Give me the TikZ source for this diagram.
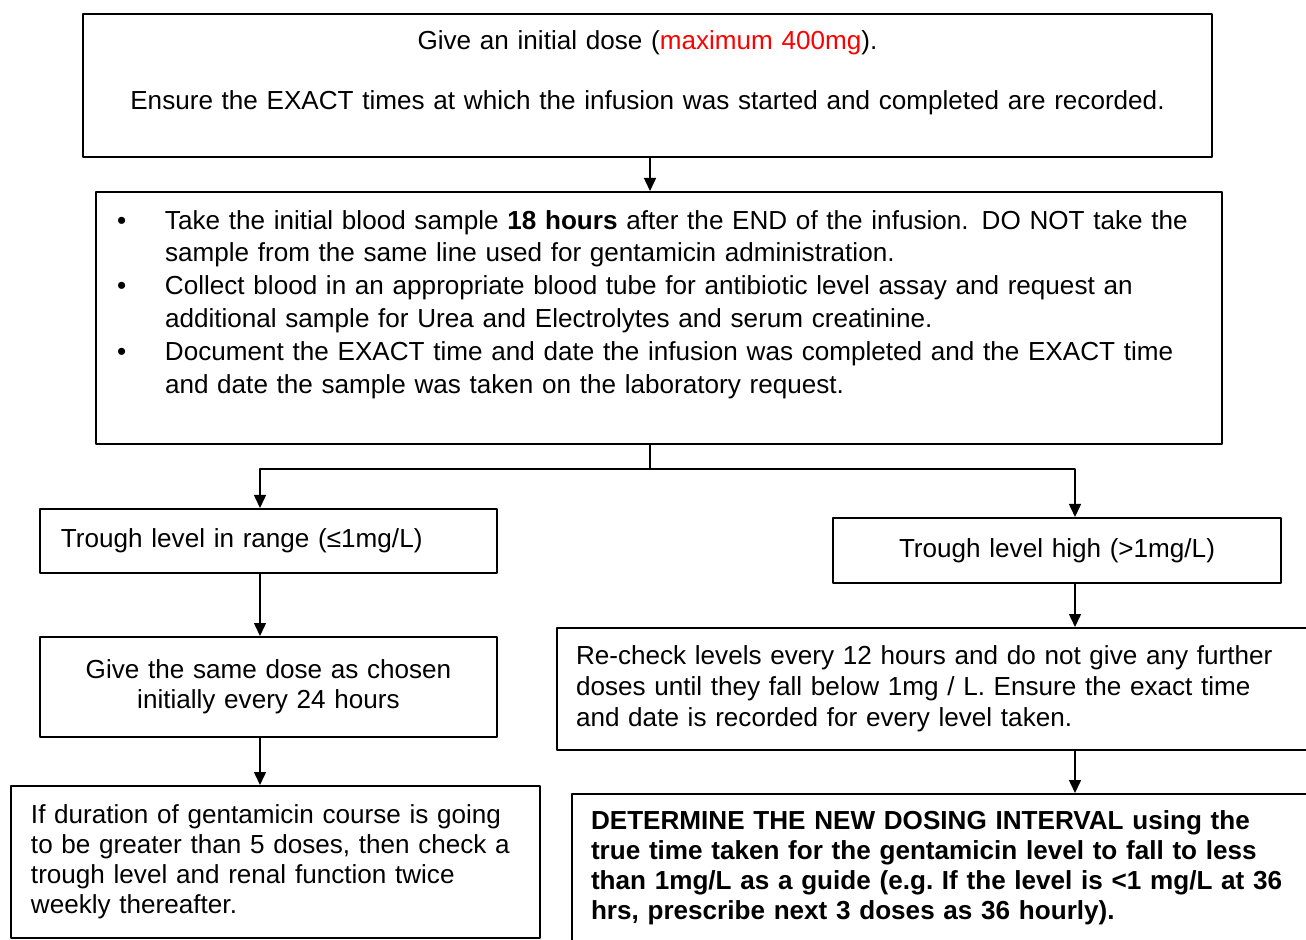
\documentclass[tikz,border=0pt]{standalone}
\usepackage{fontspec}
\setmainfont{Liberation Sans}
\usepackage{xcolor}
\usetikzlibrary{arrows.meta,calc}

\newcommand{\boxfont}{\fontsize{13.05}{15}\selectfont}
\newcommand{\bulletline}{\makebox[24pt][l]{\textbullet}}
\newcommand{\contline}{\hspace*{24pt}}

\begin{document}
\begin{tikzpicture}[x=0.5pt,y=-0.5pt,>={Triangle[length=6.5pt,width=6pt]},line join=round,
  flowbox/.style={draw,line width=1pt,inner ysep=0pt,font=\boxfont},
  link/.style={line width=0.75pt}]
  \useasboundingbox (0,0) rectangle (1306,940);
  \clip (0,0) rectangle (1306,940);
  \coordinate (split) at (650,469);
  \coordinate (lcol) at (260,0);
  \coordinate (rcol) at (1075,0);
  % boxes
  \node[flowbox,minimum width=564.5pt,minimum height=71.5pt,text width=540pt,inner xsep=0pt,align=center] (dose) at (647.5,85.5)
    {Give an initial dose ({\color{red}maximum 400mg}).\\[15pt]Ensure the EXACT times at which the infusion was started and completed are recorded.\\ \mbox{}};
  \node[flowbox,minimum width=563pt,minimum height=126pt,text width=542pt,inner xsep=10.5pt,align=left,font=\fontsize{13.05}{16.4}\selectfont] (sample) at (659,318)
    {\bulletline Take the initial blood sample \textbf{18 hours} after the END of the infusion. DO NOT take the\\
     \contline sample from the same line used for gentamicin administration.\\
     \bulletline Collect blood in an appropriate blood tube for antibiotic level assay and request an\\
     \contline additional sample for Urea and Electrolytes and serum creatinine.\\
     \bulletline Document the EXACT time and date the infusion was completed and the EXACT time\\
     \contline and date the sample was taken on the laboratory request.\\ \mbox{}};
  \node[flowbox,minimum width=228.5pt,minimum height=32pt,text width=207.5pt,inner xsep=10.5pt,align=left] (inrange) at (268.5,541)
    {Trough level in range (≤1mg/L)};
  \node[flowbox,minimum width=224pt,minimum height=32.5pt,text width=210pt,inner xsep=7pt,align=center] (high) at (1057,550.5)
    {Trough level high (>1mg/L)};
  \node[flowbox,minimum width=228.5pt,minimum height=50pt,text width=210pt,align=center] (samedose) at (268.5,687)
    {Give the same dose as chosen\\initially every 24 hours};
  \node[flowbox,minimum width=264.5pt,minimum height=76pt,text width=244.5pt,inner xsep=10pt,align=left] (course) at (275.5,862)
    {If duration of gentamicin course is going\\to be greater than 5 doses, then check a\\trough level and renal function twice\\weekly thereafter.};
  \node[flowbox,minimum width=377.5pt,minimum height=61pt,text width=358.5pt,inner xsep=9.5pt,align=left,font=\fontsize{13.05}{15.5}\selectfont] (recheck) at (934.5,689)
    {Re-check levels every 12 hours and do not give any further\\doses until they fall below 1mg / L. Ensure the exact time\\and date is recorded for every level taken.};
  \node[flowbox,minimum width=379pt,minimum height=86pt,text width=360pt,inner xsep=9.5pt,align=left,font=\boxfont\bfseries] (newint) at (951,880)
    {DETERMINE THE NEW DOSING INTERVAL using the\\true time taken for the gentamicin level to fall to less\\than 1mg/L as a guide (e.g.\ If the level is <1 mg/L at 36\\hrs, prescribe next 3 doses as 36 hourly).\\ \mbox{}};
  % connectors
  \draw[link,->] (dose.south -| split) -- (sample.north -| split);
  \draw[link] (sample.south -| split) -- (split);
  \draw[link,->] (split) -| (inrange.north -| lcol);
  \draw[link,->] (split) -| (high.north -| rcol);
  \draw[link,->] (inrange.south -| lcol) -- (samedose.north -| lcol);
  \draw[link,->] (samedose.south -| lcol) -- (course.north -| lcol);
  \draw[link,->] (high.south -| rcol) -- (recheck.north -| rcol);
  \draw[link,->] (recheck.south -| rcol) -- (newint.north -| rcol);
\end{tikzpicture}
\end{document}
